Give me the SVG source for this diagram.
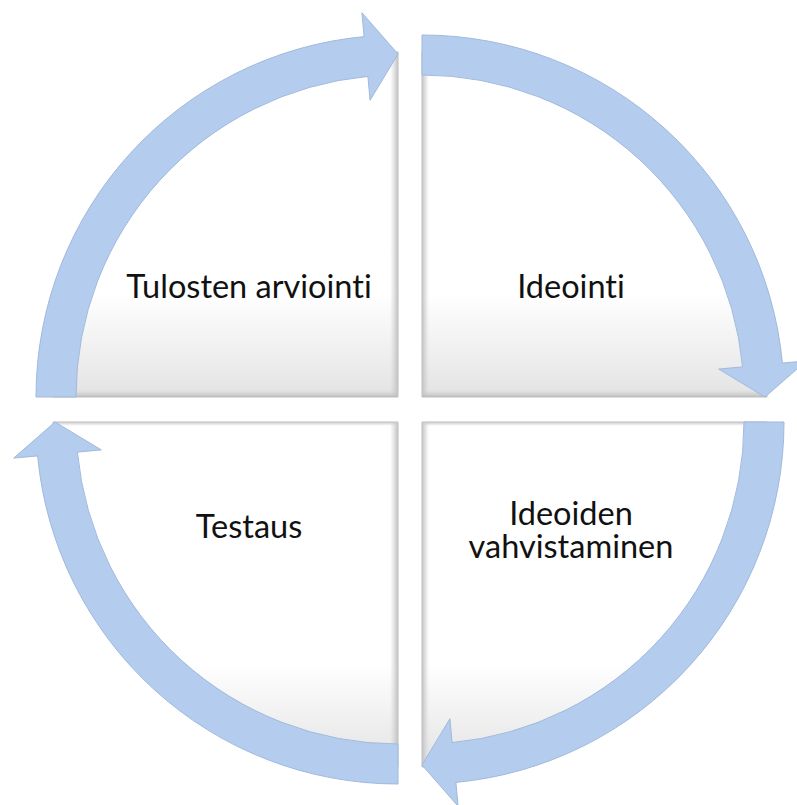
<svg xmlns="http://www.w3.org/2000/svg" width="797" height="805" viewBox="0 0 797 805">
<defs>
<linearGradient id="panelFill" x1="0" y1="0" x2="0" y2="1">
<stop offset="0" stop-color="#ffffff"/>
<stop offset="0.7" stop-color="#ffffff"/>
<stop offset="1" stop-color="#e3e3e3"/>
</linearGradient>
<linearGradient id="bevR" x1="0" y1="0" x2="1" y2="0">
<stop offset="0" stop-color="#d0d0d0" stop-opacity="0"/>
<stop offset="1" stop-color="#c2c2c2" stop-opacity="1"/>
</linearGradient>
<linearGradient id="bevL" x1="1" y1="0" x2="0" y2="0">
<stop offset="0" stop-color="#d0d0d0" stop-opacity="0"/>
<stop offset="1" stop-color="#c2c2c2" stop-opacity="1"/>
</linearGradient>
<linearGradient id="bevB" x1="0" y1="0" x2="0" y2="1">
<stop offset="0" stop-color="#d0d0d0" stop-opacity="0"/>
<stop offset="1" stop-color="#bdbdbd" stop-opacity="1"/>
</linearGradient>
<linearGradient id="bevT" x1="0" y1="1" x2="0" y2="0">
<stop offset="0" stop-color="#d0d0d0" stop-opacity="0"/>
<stop offset="1" stop-color="#c8c8c8" stop-opacity="1"/>
</linearGradient>
<clipPath id="cTL"><path d="M398 397 H53 A345 345 0 0 1 398 52 Z"/></clipPath>
<clipPath id="cTR"><path d="M422 397 V52 A345 345 0 0 1 767 397 Z"/></clipPath>
<clipPath id="cBR"><path d="M422 422 H767 A345 345 0 0 1 422 767 Z"/></clipPath>
<clipPath id="cBL"><path d="M398 422 V767 A345 345 0 0 1 53 422 Z"/></clipPath>
</defs>
<style>
.panel{fill:url(#panelFill);stroke:#bdbdbd;stroke-width:1}
.arrow{fill:#b4ccee;stroke:#a0b9dc;stroke-width:1}
.label{font-family:Lato,"Liberation Sans",sans-serif;font-size:32.5px;fill:#111111;text-anchor:middle;font-variant-ligatures:none}
</style>
<rect width="797" height="805" fill="#ffffff"/>

<g id="node-tulosten-arviointi">
<path class="panel" d="M398 397 H53 A345 345 0 0 1 398 52 Z"/>
<g clip-path="url(#cTL)">
<rect x="390" y="40" width="8" height="357" fill="url(#bevR)"/>
<rect x="40" y="390" width="358" height="7" fill="url(#bevB)"/>
</g>
<text class="label" x="249" y="298">Tulosten arviointi</text>
</g>

<g id="node-ideointi">
<path class="panel" d="M422 397 V52 A345 345 0 0 1 767 397 Z"/>
<g clip-path="url(#cTR)">
<rect x="422" y="40" width="7" height="357" fill="url(#bevL)"/>
<rect x="422" y="390" width="350" height="7" fill="url(#bevB)"/>
</g>
<text class="label" x="571" y="298">Ideointi</text>
</g>

<g id="node-ideoiden-vahvistaminen">
<path class="panel" d="M422 422 H767 A345 345 0 0 1 422 767 Z"/>
<g clip-path="url(#cBR)">
<rect x="422" y="422" width="7" height="350" fill="url(#bevL)"/>
<rect x="422" y="422" width="350" height="4" fill="url(#bevT)"/>
</g>
<text class="label" x="571" y="525"><tspan x="571" y="525">Ideoiden</tspan><tspan x="571" y="558">vahvistaminen</tspan></text>
</g>

<g id="node-testaus">
<path class="panel" d="M398 422 V767 A345 345 0 0 1 53 422 Z"/>
<g clip-path="url(#cBL)">
<rect x="390" y="422" width="8" height="350" fill="url(#bevR)"/>
<rect x="40" y="422" width="358" height="4" fill="url(#bevT)"/>
</g>
<text class="label" x="249" y="538">Testaus</text>
</g>

<g id="connectors">
<path class="arrow" d="M36 397 A362 362 0 0 1 364.1 36.6 L361.9 12.7 L398 54 L370.1 100.3 L367.9 76.4 A322 322 0 0 0 76 397 Z"/>
<path class="arrow" d="M422 35 A362 362 0 0 1 782.4 363.1 L806.3 360.9 L765 397 L718.7 369.1 L742.6 366.9 A322 322 0 0 0 422 75 Z"/>
<path class="arrow" d="M784 422 A362 362 0 0 1 455.9 782.4 L458.1 806.3 L422 765 L449.9 718.7 L452.1 742.6 A322 322 0 0 0 744 422 Z"/>
<path class="arrow" d="M398 784 A362 362 0 0 1 37.6 455.9 L13.7 458.1 L55 422 L101.3 449.9 L77.4 452.1 A322 322 0 0 0 398 744 Z"/>
</g>
</svg>
